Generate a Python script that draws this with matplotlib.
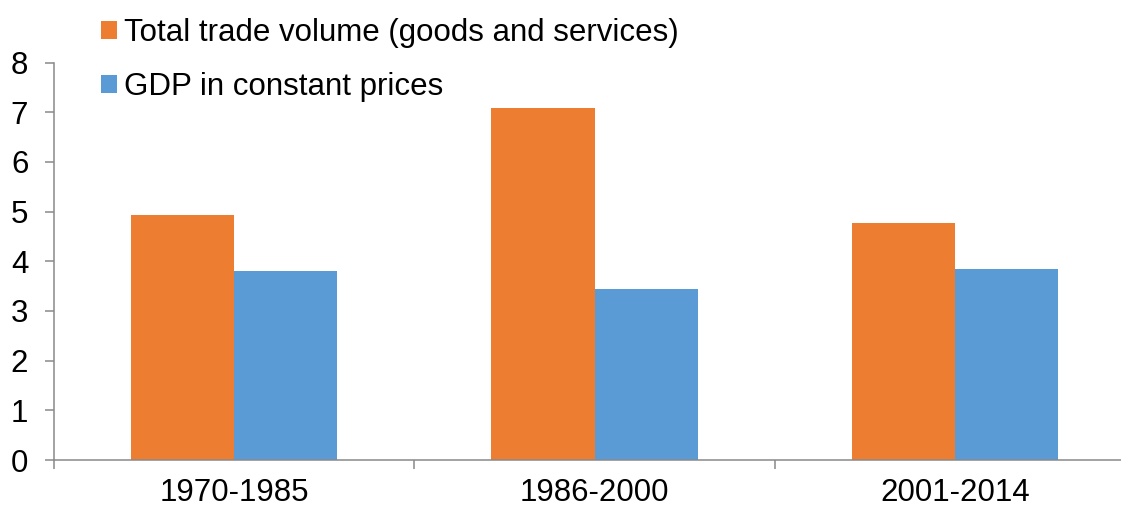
import matplotlib
matplotlib.use("Agg")
import matplotlib.pyplot as plt
import numpy as np

categories = ["1970-1985", "1986-2000", "2001-2014"]
trade_volume = [4.93, 7.09, 4.76]
gdp_constant = [3.80, 3.45, 3.84]
series_labels = ["Total trade volume (goods and services)", "GDP in constant prices"]
y_ticks = [0, 1, 2, 3, 4, 5, 6, 7, 8]

ORANGE = "#ED7D31"
BLUE = "#5B9BD5"
SPINE = "#898989"
FS = 22.5

plt.rcParams['font.family'] = ['Liberation Sans', 'DejaVu Sans']

W, H = 1121, 508
fig = plt.figure(figsize=(W / 100, H / 100), dpi=100)
ax = fig.add_axes([54 / W, 48 / H, 1081 / W, (460 - 62.5) / H])

x = np.arange(len(categories))
bw = 0.286
b1 = ax.bar(x - bw / 2, trade_volume, width=bw, color=ORANGE, label=series_labels[0], linewidth=0)
b2 = ax.bar(x + bw / 2, gdp_constant, width=bw, color=BLUE, label=series_labels[1], linewidth=0)

ax.set_xlim(-0.5, len(categories) - 0.5)
ax.set_ylim(0, 8)
ax.set_yticks(y_ticks)
ax.set_yticklabels([str(t) for t in y_ticks])

ax.set_xticks(x)
ax.set_xticklabels(categories)
ax.set_xticks(np.arange(len(categories) + 1) - 0.5, minor=True)
ax.tick_params(axis='x', which='major', length=0, pad=13, labelsize=FS)
ax.tick_params(axis='x', which='minor', length=6.5, width=1.1, color=SPINE, direction='out')
ax.tick_params(axis='y', length=6.5, width=1.1, color=SPINE, pad=12, labelsize=FS)

for s in ['top', 'right']:
    ax.spines[s].set_visible(False)
for s in ['left', 'bottom']:
    ax.spines[s].set_color(SPINE)
    ax.spines[s].set_linewidth(1.1)

leg = fig.legend(handles=[b1, b2], labels=series_labels, loc='upper left',
                 bbox_to_anchor=(101 / W, 1 - 18 / H), frameon=False, fontsize=FS,
                 handlelength=0.5, handleheight=0.5, handletextpad=0.25,
                 labelspacing=0.78, borderpad=0, borderaxespad=0)

fig.savefig("out.png", dpi=100)
